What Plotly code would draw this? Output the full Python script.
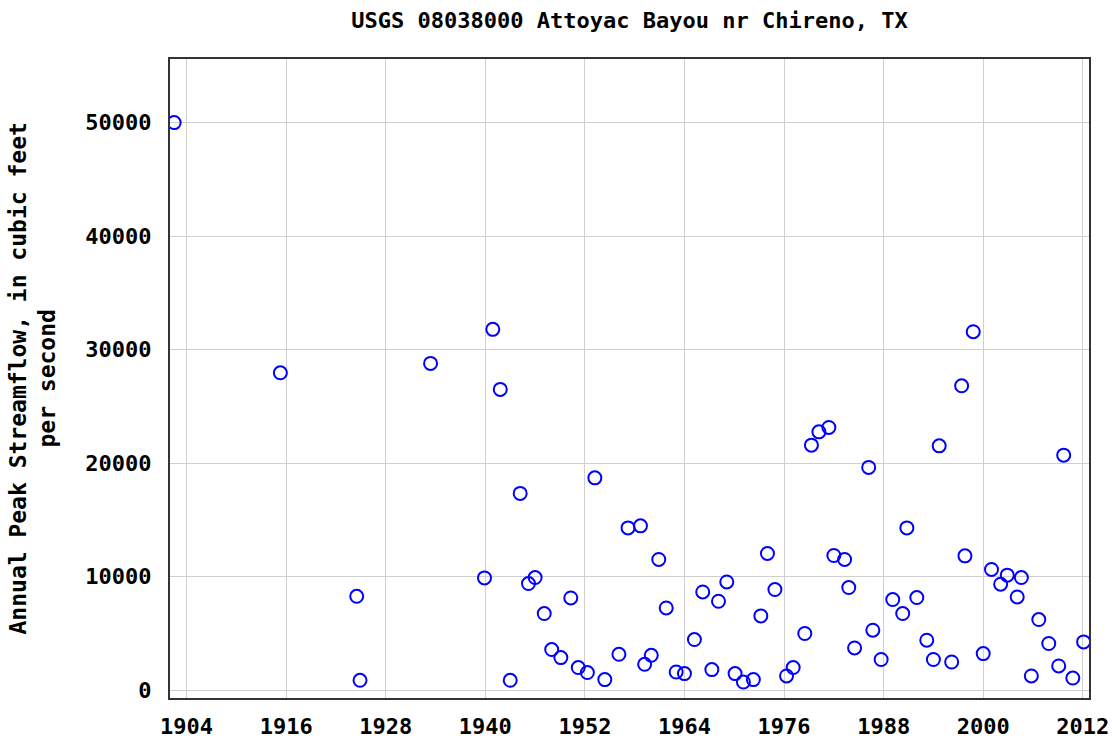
import plotly.graph_objects as go

years = [1902.5, 1915.3, 1924.5, 1924.9, 1933.4, 1939.9, 1940.9, 1941.8, 1943.0, 1944.2,
         1945.2, 1946.0, 1947.1, 1948.0, 1949.1, 1950.3, 1951.2, 1952.3, 1953.2, 1954.4,
         1956.1, 1957.2, 1958.7, 1959.2, 1960.0, 1960.9, 1961.8, 1963.0, 1964.0, 1965.2,
         1966.2, 1967.3, 1968.1, 1969.1, 1970.1, 1971.1, 1972.3, 1973.2, 1974.0, 1974.9,
         1976.3, 1977.1, 1978.5, 1979.3, 1980.2, 1981.4, 1982.0, 1983.3, 1983.8, 1984.5,
         1986.2, 1986.7, 1987.7, 1989.1, 1990.3, 1990.8, 1992.0, 1993.2, 1994.0, 1994.7,
         1996.2, 1997.4, 1997.8, 1998.8, 2000.0, 2001.0, 2002.1, 2002.9, 2004.1, 2004.6,
         2005.8, 2006.7, 2007.9, 2009.1, 2009.7, 2010.8, 2012.1]
peaks = [50000, 27960, 8280, 880, 28790, 9900, 31790, 26500, 880, 17340,
         9400, 9930, 6760, 3590, 2880, 8130, 2000, 1560, 18710, 940,
         3170, 14300, 14480, 2290, 3080, 11520, 7250, 1610, 1470, 4470,
         8660, 1820, 7840, 9540, 1470, 730, 940, 6550, 12050, 8870,
         1260, 2000, 5000, 21590, 22760, 23150, 11870, 11520, 9050, 3730,
         19630, 5290, 2710, 7990, 6760, 14300, 8170, 4410, 2710, 21530,
         2490, 26820, 11840, 31580, 3230, 10640, 9340, 10140, 8220, 9930,
         1260, 6230, 4120, 2140, 20710, 1080, 4260]

x_ticks = [1904, 1916, 1928, 1940, 1952, 1964, 1976, 1988, 2000, 2012]
y_ticks = [0, 10000, 20000, 30000, 40000, 50000]

title_text = "USGS 08038000 Attoyac Bayou nr Chireno, TX"
ytitle_text = "Annual Peak Streamflow, in cubic feet<br>per second"

FONT = "DejaVu Sans Mono"

fig = go.Figure()
fig.add_trace(go.Scatter(
    x=years, y=peaks, mode="markers",
    marker=dict(symbol="circle-open", size=13, color="#0000ff",
                line=dict(width=2, color="#0000ff")),
    showlegend=False, hoverinfo="x+y"))

axis_common = dict(
    showgrid=True, gridcolor="#cfcfcf", gridwidth=1,
    showline=True, linecolor="#333333", linewidth=2, mirror=True,
    zeroline=False, ticks="", automargin=False,
    tickfont=dict(family=FONT, size=22, color="#000000", weight="bold"),
)

fig.update_xaxes(range=[1902, 2012.75], tickvals=x_ticks,
                 ticktext=[str(v) for v in x_ticks], ticklabelstandoff=8,
                 **axis_common)
fig.update_yaxes(range=[-680, 55600], tickvals=y_ticks,
                 ticktext=[str(v) for v in y_ticks], ticklabelstandoff=12,
                 **axis_common)

fig.update_layout(
    width=1112, height=739,
    margin=dict(l=170, r=23, t=59, b=41),
    plot_bgcolor="#ffffff", paper_bgcolor="#ffffff",
    title=dict(text=title_text, x=(170 + 1089) / 2 / 1112, xanchor="center",
               y=1 - 20 / 739, yanchor="middle",
               font=dict(family=FONT, size=22, color="#000000", weight="bold")),
    annotations=[dict(
        text=ytitle_text, xref="paper", yref="paper",
        x=(32 - 170) / 919, y=0.5, xanchor="center", yanchor="middle",
        textangle=-90, showarrow=False,
        font=dict(family=FONT, size=23, color="#000000", weight="bold"))],
)

fig.write_html("out.html", config={"displayModeBar": False},
               post_script="document.body.style.margin='0px';document.body.style.overflow='hidden';")
